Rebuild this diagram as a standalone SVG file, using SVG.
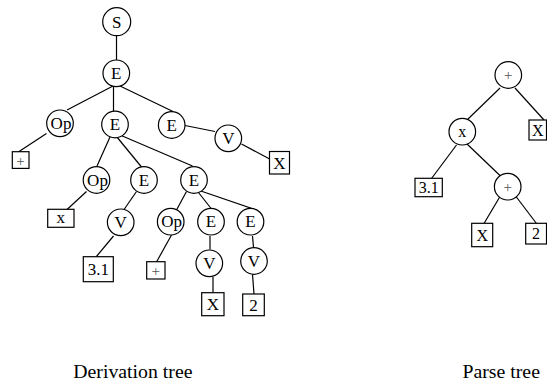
<svg xmlns="http://www.w3.org/2000/svg" width="547" height="383" viewBox="0 0 547 383">
<style>
.n circle{fill:#fff;stroke:#000;stroke-width:1.2}
.n rect{fill:#fff;stroke:#000;stroke-width:1.2}
.n text{font-family:"Liberation Serif",serif;font-size:17px;text-anchor:middle;fill:#000}
.n text.s{font-size:16px}
.n text.p{font-size:15px;fill:#555}
#edges line{stroke:#000;stroke-width:1.2}
.cap{font-family:"Liberation Serif",serif;font-size:19.8px;fill:#000}
</style>
<rect width="547" height="383" fill="#fff"/>
<g id="edges">
<line x1="116.5" y1="36" x2="116.5" y2="60"/>
<line x1="113" y1="86" x2="67" y2="110"/>
<line x1="113.5" y1="86" x2="113.5" y2="111" stroke="#666"/>
<line x1="120" y1="86" x2="173" y2="111.5"/>
<line x1="185" y1="125.5" x2="215" y2="131.5"/>
<line x1="241.5" y1="144" x2="271.5" y2="160"/>
<line x1="46.5" y1="133.5" x2="16" y2="153.5"/>
<line x1="110" y1="137" x2="97" y2="166"/>
<line x1="116.5" y1="136.5" x2="141.5" y2="167"/>
<line x1="120" y1="135" x2="192.5" y2="166"/>
<line x1="86.5" y1="191.5" x2="66.5" y2="210"/>
<line x1="136.5" y1="191.5" x2="123" y2="211"/>
<line x1="113.5" y1="236" x2="96" y2="257"/>
<line x1="186.5" y1="191.5" x2="176.5" y2="210"/>
<line x1="196.5" y1="190" x2="211.5" y2="209"/>
<line x1="195" y1="189" x2="256.5" y2="210"/>
<line x1="171.5" y1="235" x2="156.5" y2="262"/>
<line x1="210" y1="236" x2="210" y2="249.5"/>
<line x1="252.5" y1="236" x2="253.5" y2="247.5"/>
<line x1="213" y1="277" x2="213" y2="293"/>
<line x1="252.5" y1="274.5" x2="254" y2="294"/>
<line x1="500" y1="88" x2="467" y2="120"/>
<line x1="515" y1="88" x2="544" y2="120"/>
<line x1="456.5" y1="145" x2="431.5" y2="178.5"/>
<line x1="466.5" y1="143.5" x2="501.5" y2="177"/>
<line x1="500" y1="196.5" x2="484" y2="223.5"/>
<line x1="516" y1="196.5" x2="536.5" y2="223.5"/>
</g>
<g id="S" class="n"><circle cx="116.7" cy="21.7" r="14"/><text x="116.7" y="27.5">S</text></g>
<g id="E1" class="n"><circle cx="116.3" cy="73.3" r="13.3"/><text x="116.3" y="79">E</text></g>
<g id="Op1" class="n"><circle cx="60" cy="123.3" r="13.3"/><text x="61" y="129">Op</text></g>
<g id="E2" class="n"><circle cx="115" cy="124.5" r="13.3"/><text x="115" y="130.3">E</text></g>
<g id="E3" class="n"><circle cx="171.7" cy="125" r="13.3"/><text x="171.7" y="130.8">E</text></g>
<g id="V1" class="n"><circle cx="228.3" cy="138.3" r="13.3"/><text x="228.3" y="144">V</text></g>
<g id="Xb1" class="n"><rect x="269.5" y="151.5" width="20" height="22.5"/><text x="279.5" y="168.5">X</text></g>
<g id="plus1" class="n"><rect x="12.3" y="151.7" width="16.7" height="16.7"/><text class="p" x="20.6" y="165.5">+</text></g>
<g id="Op2" class="n"><circle cx="96.5" cy="180" r="13.3"/><text x="97.5" y="185.7">Op</text></g>
<g id="E4" class="n"><circle cx="144" cy="180" r="13.3"/><text x="144" y="185.7">E</text></g>
<g id="E5" class="n"><circle cx="194" cy="180" r="13.3"/><text x="194" y="185.7">E</text></g>
<g id="xb" class="n"><rect x="47.7" y="209.3" width="26.3" height="18"/><text x="60.8" y="222.5">x</text></g>
<g id="V2" class="n"><circle cx="120.7" cy="222.3" r="13.3"/><text x="120.7" y="228">V</text></g>
<g id="b31" class="n"><rect x="83.3" y="256.7" width="30" height="25"/><text x="98.3" y="274.5">3.1</text></g>
<g id="Op3" class="n"><circle cx="170.7" cy="221.7" r="13.3"/><text x="171.7" y="227.4">Op</text></g>
<g id="E6" class="n"><circle cx="211" cy="221.7" r="13.3"/><text x="211" y="227.4">E</text></g>
<g id="E7" class="n"><circle cx="250.5" cy="221.7" r="13.3"/><text x="250.5" y="227.4">E</text></g>
<g id="plus2" class="n"><rect x="146.7" y="261.7" width="18.3" height="17.3"/><text class="p" x="155.8" y="275.8">+</text></g>
<g id="V3" class="n"><circle cx="209.3" cy="263.3" r="13.3"/><text x="209.3" y="269">V</text></g>
<g id="V4" class="n"><circle cx="254" cy="261" r="13.3"/><text x="254" y="266.7">V</text></g>
<g id="Xb2" class="n"><rect x="201.7" y="292.7" width="22.3" height="23"/><text x="212.8" y="310">X</text></g>
<g id="b2" class="n"><rect x="242.7" y="294" width="21.6" height="21.7"/><text x="253.5" y="310.5">2</text></g>
<g id="Pplus1" class="n"><circle cx="508.3" cy="75" r="13.3"/><text class="p" x="508.3" y="80">+</text></g>
<g id="Px" class="n"><circle cx="462.3" cy="131.7" r="13.3"/><text class="s" x="462.3" y="136.5">x</text></g>
<g id="PX1" class="n"><rect x="529" y="120" width="17.5" height="20"/><text class="s" x="537.8" y="135.5">X</text></g>
<g id="P31" class="n"><rect x="415" y="178.3" width="27.3" height="18.4"/><text class="s" x="428.7" y="192.7">3.1</text></g>
<g id="Pplus2" class="n"><circle cx="507.7" cy="186.7" r="13.3"/><text class="p" x="507.7" y="191.7">+</text></g>
<g id="PX2" class="n"><rect x="471.7" y="223.3" width="21" height="23.4"/><text class="s" x="482.2" y="240.5">X</text></g>
<g id="P2" class="n"><rect x="525.7" y="223.3" width="20.8" height="20.7"/><text class="s" x="536.1" y="239">2</text></g>
<text class="cap" x="73.3" y="377.5">Derivation tree</text>
<text class="cap" x="462.5" y="377.5">Parse tree</text>
</svg>
